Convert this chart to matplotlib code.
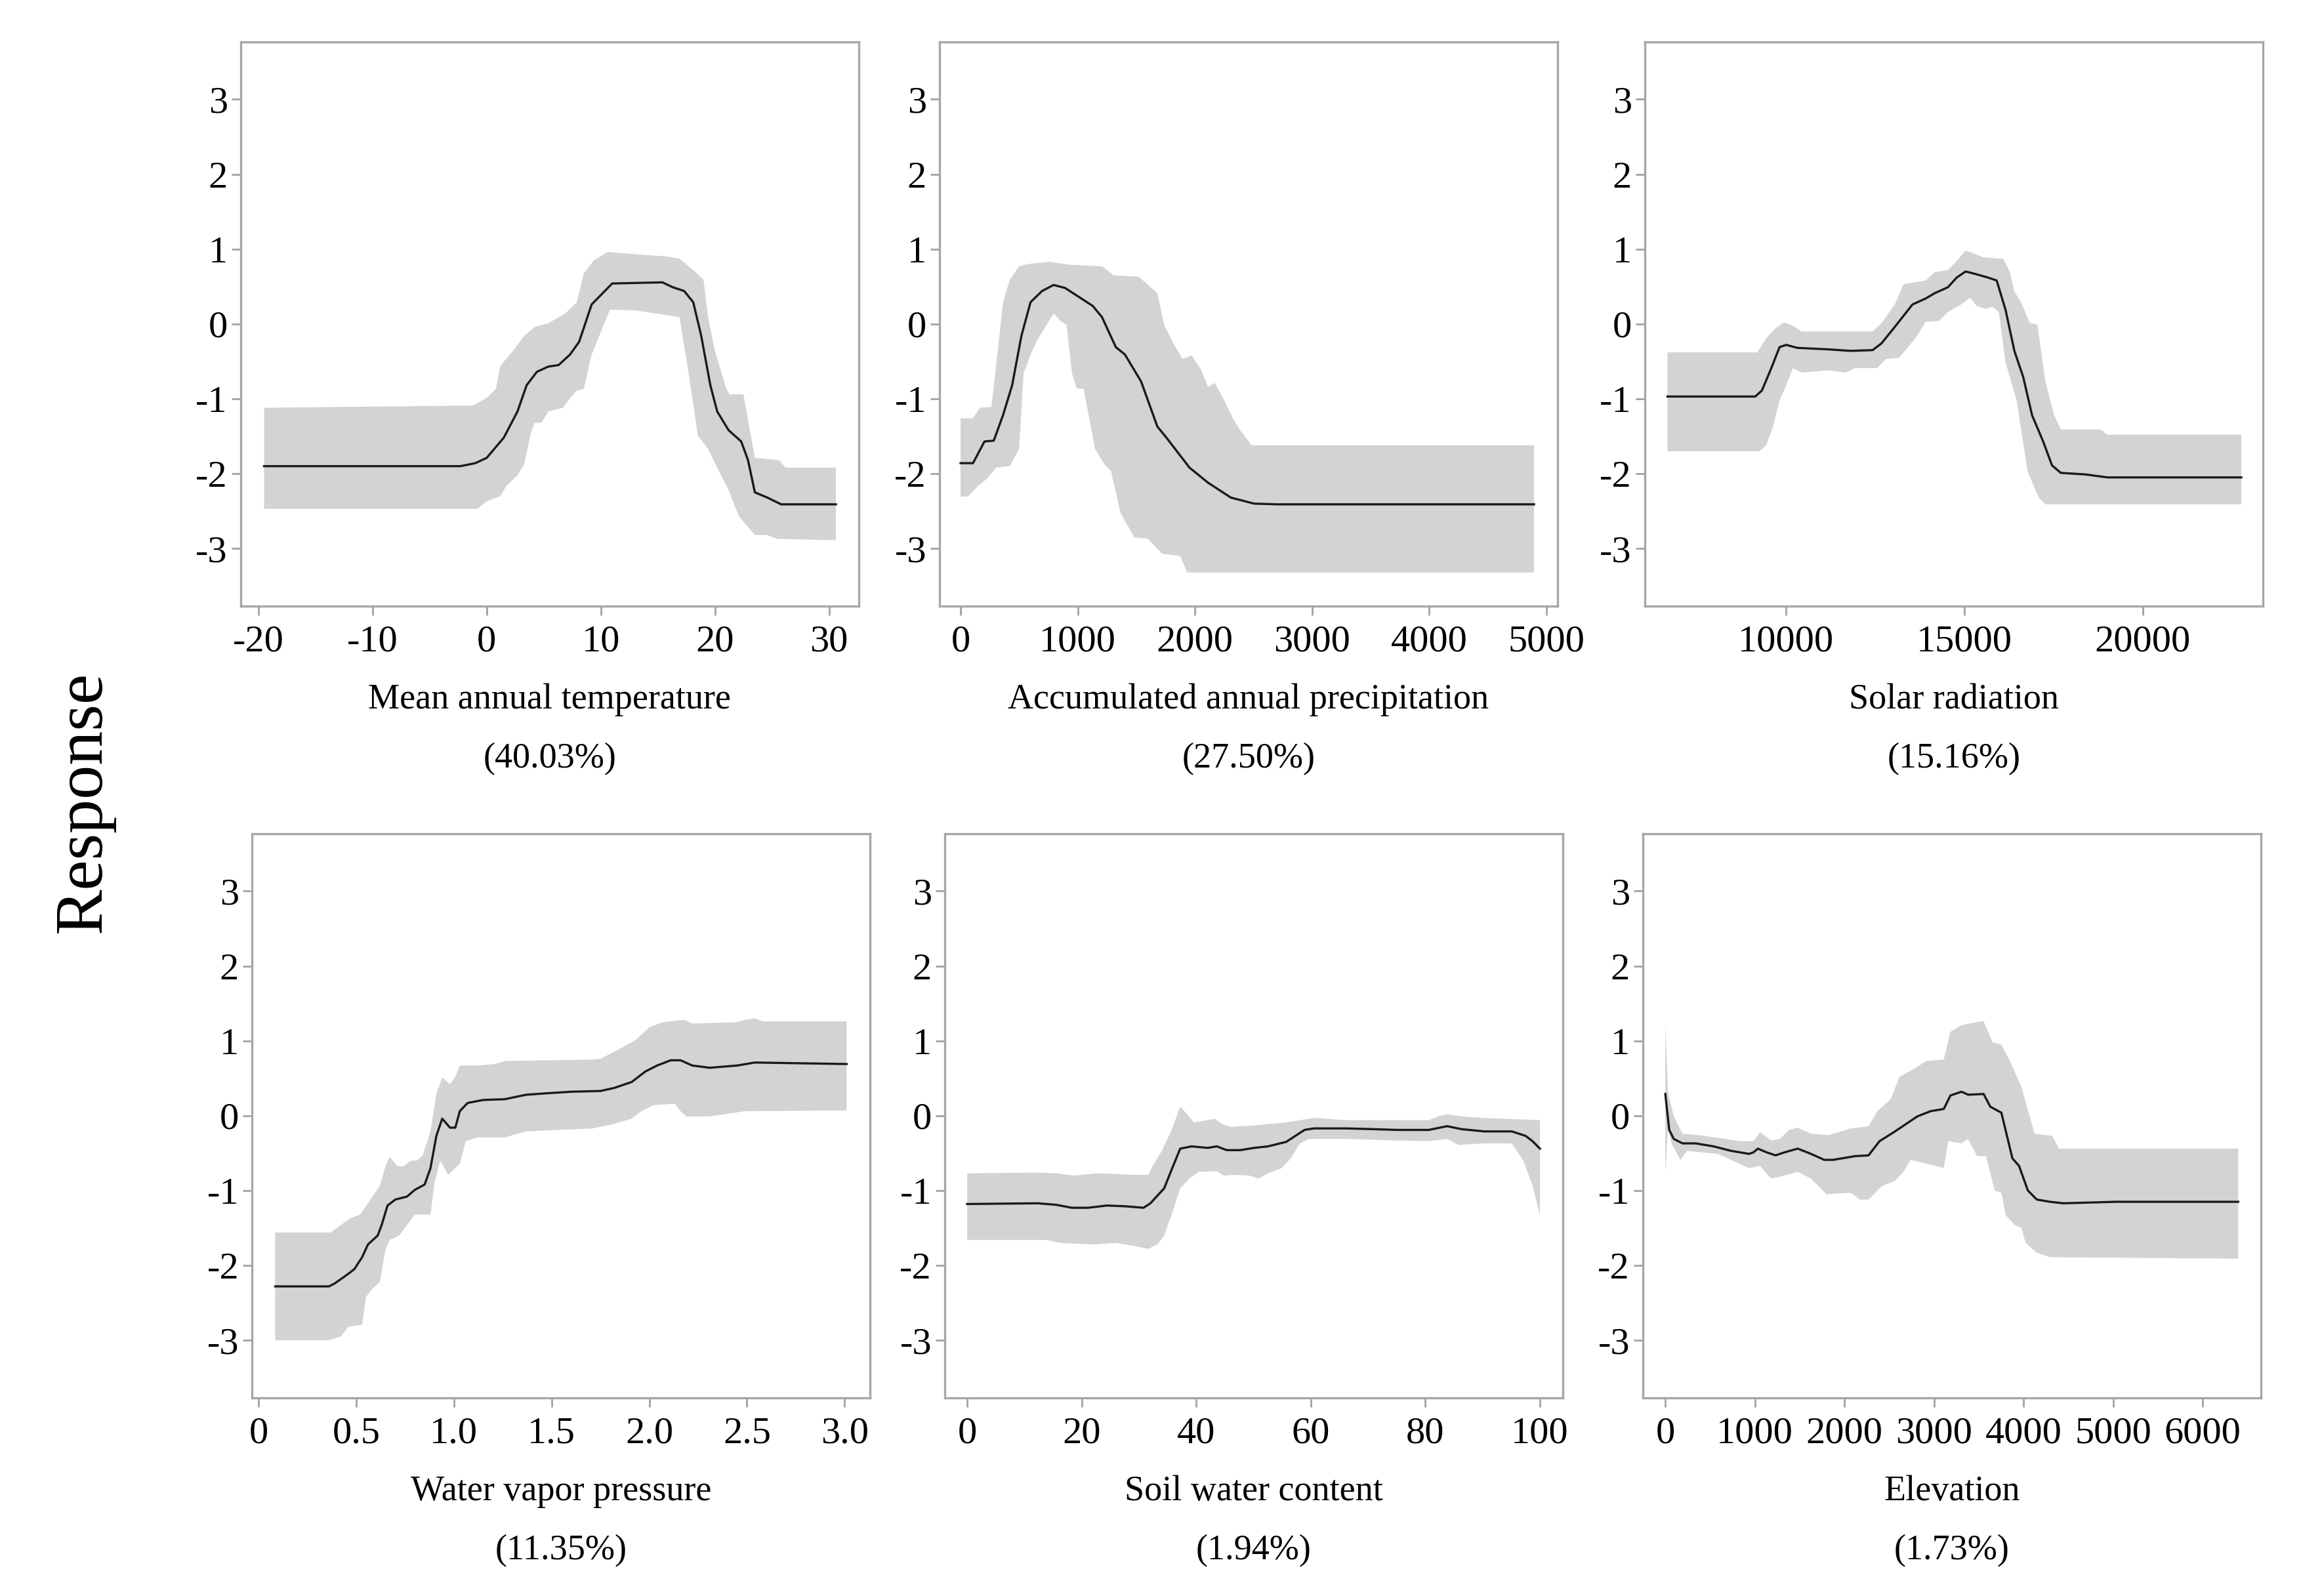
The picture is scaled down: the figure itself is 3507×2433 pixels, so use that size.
import numpy as np
import matplotlib
matplotlib.use('Agg')
import matplotlib.pyplot as plt

# Mean annual temperature
temp_x = [-19.5, -2.3, -1.0, 0, 1.5, 2.7, 3.5, 4.4, 5.4, 6.3, 7.3, 8.1, 9.2, 11.0, 15.4, 16.3, 17.3, 18.1, 18.8,
          19.6, 20.2, 21.2, 22.3, 22.9, 23.5, 24.6, 25.8, 30.6]
temp_mean = [-1.9, -1.9, -1.86, -1.79, -1.52, -1.17, -0.82, -0.64, -0.57, -0.55, -0.41, -0.24, 0.26, 0.54, 0.555,
             0.49, 0.44, 0.29, -0.16, -0.82, -1.17, -1.42, -1.57, -1.82, -2.25, -2.32, -2.41, -2.41]
temp_upper_x = [-19.5, -1.2, 0, 0.8, 1.2, 2.3, 3.3, 4.2, 5.4, 6.9, 7.9, 8.5, 9.4, 10.6, 13.1, 15.8, 16.9, 18.1,
                19.0, 19.4, 20.0, 21.0, 21.3, 22.5, 23.5, 25.6, 26.2, 30.6]
temp_upper = [-1.12, -1.09, -0.99, -0.87, -0.56, -0.36, -0.16, -0.04, 0.01, 0.14, 0.29, 0.67, 0.85, 0.96, 0.93,
              0.90, 0.87, 0.72, 0.59, 0.09, -0.36, -0.87, -0.94, -0.94, -1.79, -1.82, -1.92, -1.92]
temp_lower_x = [-19.5, -0.8, 0, 1.2, 1.7, 2.7, 3.3, 3.85, 4.2, 4.8, 5.4, 6.7, 7.3, 7.9, 8.5, 9.2, 10.0, 10.8,
                13.1, 16.9, 17.7, 18.5, 19.4, 20.2, 21.2, 22.1, 23.5, 24.6, 25.4, 30.6]
temp_lower = [-2.47, -2.47, -2.37, -2.30, -2.17, -2.02, -1.87, -1.47, -1.32, -1.32, -1.17, -1.12, -0.99, -0.89,
              -0.87, -0.41, -0.11, 0.19, 0.18, 0.09, -0.66, -1.49, -1.67, -1.92, -2.22, -2.57, -2.82, -2.82,
              -2.87, -2.89]

# Accumulated annual precipitation
prec_x = [0, 106, 204, 283, 362, 440, 519, 597, 696, 794, 892, 1010, 1128, 1207, 1325, 1403, 1541, 1679, 1757,
          1954, 2111, 2307, 2504, 2700, 4894]
prec_mean = [-1.86, -1.86, -1.57, -1.56, -1.22, -0.82, -0.16, 0.29, 0.44, 0.52, 0.48, 0.36, 0.24, 0.09, -0.31,
             -0.41, -0.77, -1.37, -1.52, -1.92, -2.12, -2.32, -2.40, -2.41, -2.41]
prec_upper_x = [0, 106, 165, 263, 303, 362, 420, 499, 578, 755, 932, 1207, 1305, 1521, 1679, 1737, 1816, 1895,
                1973, 2052, 2111, 2170, 2249, 2327, 2386, 2484, 4894]
prec_upper = [-1.26, -1.26, -1.12, -1.11, -0.56, 0.29, 0.59, 0.77, 0.80, 0.83, 0.79, 0.77, 0.65, 0.63, 0.41,
              -0.01, -0.26, -0.47, -0.42, -0.61, -0.84, -0.79, -1.02, -1.27, -1.42, -1.62, -1.62]
prec_lower_x = [0, 67, 145, 224, 303, 420, 499, 538, 597, 656, 735, 794, 853, 904, 951, 991, 1050, 1148, 1226,
                1285, 1364, 1482, 1600, 1718, 1875, 1934, 4894]
prec_lower = [-2.31, -2.30, -2.17, -2.07, -1.92, -1.90, -1.67, -0.66, -0.41, -0.21, -0.01, 0.14, 0.04, -0.01,
              -0.66, -0.86, -0.87, -1.67, -1.87, -1.97, -2.52, -2.85, -2.87, -3.07, -3.10, -3.32, -3.32]

# Solar radiation
sol_x = [6687, 9144, 9330, 9578, 9826, 10012, 10323, 11191, 11812, 12432, 12680, 13053, 13549, 13921, 14169,
         14541, 14789, 15038, 15286, 15658, 15906, 16154, 16402, 16650, 16898, 17208, 17456, 17704, 18387, 19008,
         22757]
sol_mean = [-0.97, -0.97, -0.89, -0.61, -0.31, -0.28, -0.32, -0.34, -0.36, -0.35, -0.26, -0.04, 0.26, 0.34, 0.41,
            0.49, 0.62, 0.70, 0.67, 0.62, 0.58, 0.19, -0.36, -0.71, -1.22, -1.57, -1.89, -1.99, -2.01, -2.05, -2.05]
sol_upper_x = [6687, 9206, 9454, 9702, 9950, 10136, 10447, 12432, 12680, 13053, 13301, 13921, 14169, 14541,
               14789, 15038, 15534, 16092, 16278, 16402, 16588, 16836, 17047, 17270, 17518, 17704, 18821, 19008,
               22757]
sol_upper = [-0.38, -0.38, -0.19, -0.06, 0.02, -0.01, -0.10, -0.10, 0.01, 0.26, 0.53, 0.58, 0.69, 0.72, 0.84,
             0.98, 0.89, 0.87, 0.69, 0.43, 0.29, 0.01, -0.01, -0.77, -1.22, -1.41, -1.41, -1.48, -1.48]
sol_lower_x = [6687, 9268, 9454, 9640, 9826, 10012, 10199, 10447, 11191, 11688, 11936, 12556, 12804, 13177,
               13425, 13673, 13921, 14293, 14541, 14913, 15162, 15348, 15596, 15782, 15968, 16154, 16464, 16774,
               17084, 17270, 22757]
sol_lower = [-1.70, -1.70, -1.62, -1.37, -1.02, -0.82, -0.59, -0.65, -0.62, -0.65, -0.59, -0.59, -0.47, -0.45,
             -0.31, -0.16, 0.03, 0.04, 0.16, 0.26, 0.35, 0.24, 0.20, 0.23, 0.16, -0.51, -1.02, -1.97, -2.32, -2.41,
             -2.41]

# Water vapor pressure
vap_x = [0.085, 0.36, 0.39, 0.45, 0.49, 0.53, 0.56, 0.61, 0.63, 0.66, 0.70, 0.73, 0.76, 0.80, 0.85, 0.88, 0.91,
         0.94, 0.98, 1.007, 1.03, 1.07, 1.15, 1.26, 1.37, 1.48, 1.60, 1.75, 1.82, 1.91, 1.98, 2.04, 2.11, 2.16,
         2.22, 2.31, 2.45, 2.54, 3.01]
vap_mean = [-2.28, -2.28, -2.24, -2.13, -2.05, -1.89, -1.72, -1.60, -1.46, -1.20, -1.12, -1.10, -1.08, -0.99,
            -0.92, -0.70, -0.27, -0.04, -0.16, -0.16, 0.06, 0.17, 0.21, 0.22, 0.28, 0.30, 0.32, 0.33, 0.37, 0.45,
            0.59, 0.67, 0.74, 0.74, 0.67, 0.64, 0.67, 0.71, 0.69]
vap_upper_x = [0.085, 0.37, 0.40, 0.47, 0.52, 0.57, 0.62, 0.65, 0.67, 0.71, 0.74, 0.78, 0.81, 0.84, 0.88, 0.91,
               0.94, 0.98, 1.007, 1.03, 1.12, 1.21, 1.26, 1.71, 1.75, 1.84, 1.93, 2.0, 2.07, 2.18, 2.22, 2.45,
               2.49, 2.54, 2.58, 3.01]
vap_upper = [-1.56, -1.56, -1.50, -1.37, -1.32, -1.13, -0.94, -0.67, -0.55, -0.67, -0.68, -0.60, -0.60, -0.53,
             -0.21, 0.29, 0.51, 0.42, 0.52, 0.67, 0.67, 0.69, 0.73, 0.75, 0.76, 0.88, 1.01, 1.18, 1.25, 1.28, 1.23,
             1.25, 1.28, 1.30, 1.26, 1.26]
vap_lower_x = [0.085, 0.36, 0.42, 0.46, 0.53, 0.55, 0.58, 0.62, 0.65, 0.67, 0.72, 0.76, 0.80, 0.88, 0.90, 0.93,
               0.97, 1.03, 1.06, 1.12, 1.26, 1.37, 1.71, 1.82, 1.91, 1.96, 2.02, 2.13, 2.16, 2.19, 2.31, 2.49, 3.01]
vap_lower = [-3.0, -3.0, -2.95, -2.82, -2.79, -2.42, -2.32, -2.22, -1.79, -1.66, -1.60, -1.46, -1.32, -1.32,
             -0.90, -0.60, -0.79, -0.64, -0.34, -0.29, -0.29, -0.21, -0.17, -0.11, -0.04, 0.06, 0.14, 0.16, 0.06,
             -0.01, -0.01, 0.06, 0.07]

# Soil water content
soil_x = [0, 12.3, 15.5, 18.3, 21.1, 24.4, 27.6, 30.8, 32.0, 34.4, 35.6, 37.2, 39.2, 42.0, 43.6, 45.3, 47.7,
          50.1, 52.5, 55.7, 57.3, 58.9, 60.5, 66.2, 71.0, 75.0, 80.6, 83.8, 86.3, 90.3, 95.1, 97.5, 98.7, 100]
soil_mean = [-1.18, -1.17, -1.19, -1.23, -1.23, -1.20, -1.21, -1.23, -1.17, -0.97, -0.74, -0.44, -0.41, -0.43,
             -0.41, -0.46, -0.46, -0.43, -0.41, -0.35, -0.27, -0.19, -0.17, -0.17, -0.18, -0.19, -0.19, -0.14,
             -0.18, -0.21, -0.21, -0.27, -0.34, -0.44]
soil_upper_x = [0, 12.3, 15.5, 18.7, 22.7, 29.2, 31.6, 32.4, 34.0, 35.6, 37.2, 38.4, 39.6, 42.0, 43.2, 44.5,
                46.1, 50.1, 55.7, 60.5, 66.2, 80.6, 82.2, 83.8, 86.3, 90.3, 100]
soil_upper = [-0.77, -0.76, -0.77, -0.80, -0.77, -0.79, -0.79, -0.67, -0.47, -0.21, 0.12, 0.02, -0.09, -0.06,
              -0.04, -0.11, -0.15, -0.13, -0.09, -0.03, -0.06, -0.06, -0.01, 0.02, -0.01, -0.03, -0.06]
soil_lower_x = [0, 13.9, 16.3, 21.9, 26.0, 29.2, 31.6, 33.2, 34.4, 35.6, 37.2, 38.8, 40.4, 43.6, 44.8, 46.9,
                49.3, 50.9, 52.5, 54.9, 56.5, 58.1, 59.7, 66.2, 74.2, 80.6, 83.8, 85.8, 90.3, 95.1, 97.1, 98.7, 100]
soil_lower = [-1.66, -1.66, -1.70, -1.72, -1.70, -1.74, -1.78, -1.72, -1.60, -1.34, -0.97, -0.84, -0.75, -0.74,
              -0.80, -0.79, -0.80, -0.84, -0.77, -0.70, -0.57, -0.37, -0.31, -0.31, -0.33, -0.34, -0.31, -0.39,
              -0.37, -0.37, -0.60, -0.93, -1.33]

# Elevation
elev_x = [0, 44, 94, 193, 341, 539, 736, 934, 984, 1033, 1132, 1231, 1330, 1478, 1626, 1775, 1873, 2121, 2269,
          2392, 2565, 2813, 2961, 3109, 3183, 3307, 3381, 3554, 3628, 3752, 3875, 3949, 4048, 4147, 4295, 4444,
          5037, 6396]
elev_mean = [0.29, -0.19, -0.31, -0.37, -0.37, -0.41, -0.47, -0.51, -0.49, -0.44, -0.49, -0.53, -0.49, -0.44,
             -0.51, -0.59, -0.59, -0.54, -0.53, -0.34, -0.21, -0.01, 0.06, 0.09, 0.27, 0.32, 0.28, 0.29, 0.12,
             0.04, -0.57, -0.67, -1.00, -1.12, -1.15, -1.17, -1.15, -1.15]
elev_upper_x = [0, 30, 94, 193, 440, 835, 984, 1058, 1181, 1280, 1379, 1478, 1626, 1824, 2071, 2269, 2368, 2516,
                2615, 2813, 2911, 3109, 3183, 3307, 3480, 3554, 3653, 3752, 3851, 3974, 4122, 4320, 4394, 6396]
elev_upper = [1.21, 0.32, -0.01, -0.24, -0.27, -0.34, -0.34, -0.22, -0.33, -0.31, -0.19, -0.16, -0.24, -0.26,
              -0.17, -0.14, 0.06, 0.22, 0.52, 0.65, 0.73, 0.75, 1.12, 1.21, 1.25, 1.26, 0.98, 0.95, 0.72, 0.39,
              -0.24, -0.27, -0.44, -0.44]
elev_lower_x = [0, 30, 69, 168, 242, 588, 934, 1058, 1181, 1330, 1478, 1626, 1800, 2071, 2170, 2269, 2417, 2565,
                2664, 2739, 2911, 3109, 3158, 3307, 3381, 3480, 3579, 3678, 3752, 3801, 3900, 3974, 4023, 4147,
                4295, 6396]
elev_lower = [-0.77, -0.17, -0.37, -0.59, -0.47, -0.51, -0.70, -0.67, -0.84, -0.80, -0.75, -0.84, -1.05, -1.03,
              -1.12, -1.12, -0.94, -0.87, -0.74, -0.59, -0.64, -0.70, -0.34, -0.37, -0.31, -0.54, -0.54, -1.00,
              -1.03, -1.33, -1.46, -1.50, -1.70, -1.83, -1.89, -1.91]

# Labels, relative influence and ticks for each panel
var_names = ['Mean annual temperature', 'Accumulated annual precipitation', 'Solar radiation',
             'Water vapor pressure', 'Soil water content', 'Elevation']
influence = ['(40.03%)', '(27.50%)', '(15.16%)', '(11.35%)', '(1.94%)', '(1.73%)']
x_ticks = [[-20, -10, 0, 10, 20, 30],
           [0, 1000, 2000, 3000, 4000, 5000],
           [10000, 15000, 20000],
           [0, 0.5, 1.0, 1.5, 2.0, 2.5, 3.0],
           [0, 20, 40, 60, 80, 100],
           [0, 1000, 2000, 3000, 4000, 5000, 6000]]
x_tick_labels = [['-20', '-10', '0', '10', '20', '30'],
                 ['0', '1000', '2000', '3000', '4000', '5000'],
                 ['10000', '15000', '20000'],
                 ['0', '0.5', '1.0', '1.5', '2.0', '2.5', '3.0'],
                 ['0', '20', '40', '60', '80', '100'],
                 ['0', '1000', '2000', '3000', '4000', '5000', '6000']]
y_ticks = [-3, -2, -1, 0, 1, 2, 3]
y_tick_labels = ['-3', '-2', '-1', '0', '1', '2', '3']

panels = [
    (temp_x, temp_mean, temp_upper_x, temp_upper, temp_lower_x, temp_lower),
    (prec_x, prec_mean, prec_upper_x, prec_upper, prec_lower_x, prec_lower),
    (sol_x, sol_mean, sol_upper_x, sol_upper, sol_lower_x, sol_lower),
    (vap_x, vap_mean, vap_upper_x, vap_upper, vap_lower_x, vap_lower),
    (soil_x, soil_mean, soil_upper_x, soil_upper, soil_lower_x, soil_lower),
    (elev_x, elev_mean, elev_upper_x, elev_upper, elev_lower_x, elev_lower),
]

# axis limits and box positions (figure fractions) picked to match the original
x_limits = [(-21.55, 32.6), (-180, 5095), (6050, 23360), (-0.034, 3.13), (-3.9, 104), (-250, 6650)]
boxes = [(0.1046, 0.6202), (0.4083, 0.6202), (0.7148, 0.6202),
         (0.1095, 0.1241), (0.4106, 0.1241), (0.7140, 0.1241)]
box_w, box_h = 0.2686, 0.3537

plt.rcParams['font.family'] = ['Liberation Serif', 'DejaVu Serif']
plt.rcParams['axes.unicode_minus'] = False

frame_col = '#a6a6a6'
fig = plt.figure(figsize=(11.69, 8.11), dpi=300)

for i in range(6):
    mx, my, ux, uy, lx, ly = panels[i]
    ax = fig.add_axes([boxes[i][0], boxes[i][1], box_w, box_h])

    # grey band between upper and lower bound, then the fitted response
    band_x = np.concatenate([ux, lx[::-1]])
    band_y = np.concatenate([uy, ly[::-1]])
    ax.fill(band_x, band_y, color='#d3d3d3', linewidth=0)
    ax.plot(mx, my, color='#1a1a1a', linewidth=0.8)

    ax.set_xlim(x_limits[i])
    ax.set_ylim(-3.77, 3.77)
    ax.set_xticks(x_ticks[i])
    ax.set_xticklabels(x_tick_labels[i])
    ax.set_yticks(y_ticks)
    ax.set_yticklabels(y_tick_labels)

    for s in ax.spines.values():
        s.set_color(frame_col)
        s.set_linewidth(0.8)
    ax.tick_params(direction='out', length=3.3, width=0.7, color=frame_col, labelsize=14)
    ax.tick_params(axis='y', pad=1.5)
    ax.tick_params(axis='x', pad=3.6)

    # variable name and its relative influence under the axis
    ax.annotate(var_names[i], xy=(0.5, 0), xycoords='axes fraction', xytext=(0, -37.5),
                textcoords='offset points', ha='center', va='baseline', fontsize=13)
    ax.annotate(influence[i], xy=(0.5, 0), xycoords='axes fraction', xytext=(0, -59),
                textcoords='offset points', ha='center', va='baseline', fontsize=13)

fig.text(0.0366, 0.497, 'Response', rotation=90, ha='center', va='center', fontsize=25)

plt.savefig('out.png', dpi=300)
plt.close()
